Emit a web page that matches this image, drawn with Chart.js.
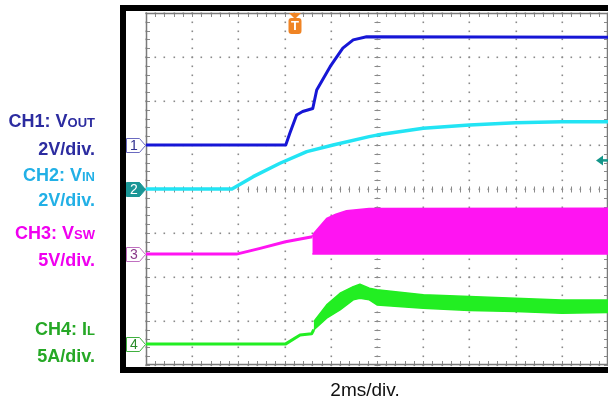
<!DOCTYPE html>
<html>
<head>
<meta charset="utf-8">
<script src="https://cdn.jsdelivr.net/npm/chart.js@4.4.0/dist/chart.umd.min.js"></script>
<style>
  html, body { margin: 0; padding: 0; background: #fff; }
  #wrap { position: relative; width: 608px; height: 403px; overflow: hidden; font-family: "Liberation Sans", Arial, sans-serif; }
  #scope { position: absolute; left: 0; top: 0; }
  .lbl { position: absolute; left: 0; width: 95px; text-align: right; font-weight: bold; font-size: 18px; line-height: 20px; white-space: nowrap; }
  .lbl span { font-size: 13px; }
  #xlabel { position: absolute; left: 300px; width: 130px; top: 379px; text-align: center; font-size: 19px; line-height: 22px; color: #111; }
</style>
</head>
<body>
<div id="wrap">
  <canvas id="scope" width="608" height="403"></canvas>
  <div class="lbl" style="top:111px;color:#2c2ca0">CH1: V<span>OUT</span></div>
  <div class="lbl" style="top:139px;color:#2c2ca0">2V/div.</div>
  <div class="lbl" style="top:165px;color:#22b0e6">CH2: V<span>IN</span></div>
  <div class="lbl" style="top:190px;color:#22b0e6">2V/div.</div>
  <div class="lbl" style="top:223px;color:#f000f0">CH3: V<span>SW</span></div>
  <div class="lbl" style="top:250px;color:#f000f0">5V/div.</div>
  <div class="lbl" style="top:319px;color:#26a826">CH4: I<span>L</span></div>
  <div class="lbl" style="top:346px;color:#26a826">5A/div.</div>
  <div id="xlabel">2ms/div.</div>
</div>
<script>
// time in ms (2 ms/div, 10 divisions)
const ch1Time = [0, 6.05, 6.23, 6.52, 6.78, 7.22, 7.39, 7.97, 8.52, 8.97, 9.55, 20];
const ch1Volt = [0, 0, 0.54, 1.36, 1.52, 1.66, 2.5, 3.56, 4.4, 4.78, 4.92, 4.9];

const ch2Time = [0, 3.72, 4.64, 5.80, 6.96, 8.10, 9.66, 10, 12, 14, 16, 18, 20];
const ch2Volt = [0, 0, 0.56, 1.17, 1.70, 2.0, 2.38, 2.45, 2.76, 2.91, 3.01, 3.06, 3.06];

// switch node before the converter starts switching
const ch3Time = [0, 3.92, 4.94, 6.04, 7.2];
const ch3Volt = [0, 0, 0.65, 1.40, 1.98];
// switching envelope (high / low level of the square wave)
const ch3SwTime = [7.2, 7.26, 7.82, 8.22, 8.68, 9.66, 20];
const ch3SwHigh = [1.98, 2.35, 4.06, 4.54, 4.92, 5.19, 5.2];
const ch3SwLow = [0, 0, 0, 0, 0, 0, 0];

// inductor current
const ch4Time = [0, 6.05, 6.67, 7.17, 7.26];
const ch4Amp = [0, 0, 1.02, 1.14, 1.6];
const ch4RipTime = [7.26, 7.82, 8.40, 8.97, 9.26, 9.67, 10, 12, 14, 16, 18, 20];
const ch4RipHigh = [2.53, 4.43, 5.76, 6.51, 6.78, 6.33, 6.14, 5.57, 5.38, 5.19, 5.0, 5.0];
const ch4RipLow = [1.59, 2.92, 3.86, 5.0, 5.19, 5.0, 4.43, 4.06, 3.78, 3.67, 3.49, 3.56];

const triggerTime = 6.45; // ms
const triggerLevel = 1.3; // V on CH2

function pts(ts, vs) {
  return ts.map((t, i) => ({ x: t, y: vs[i] }));
}

const tags = [
  { axis: 'y1', n: '1', stroke: '#6a6ac0', text: '#30308f', fill: '#fff' },
  { axis: 'y2', n: '2', stroke: '#1a9696', text: '#fff', fill: '#1a9696' },
  { axis: 'y3', n: '3', stroke: '#c070c0', text: '#8a3a8a', fill: '#fff' },
  { axis: 'y4', n: '4', stroke: '#40b040', text: '#2a8a2a', fill: '#fff' }
];

// scope bezel, graticule and markers
const scopeFrame = {
  id: 'scopeFrame',
  beforeDraw(chart) {
    const { ctx, chartArea: a } = chart;
    ctx.save();
    ctx.fillStyle = '#000';
    ctx.fillRect(a.left - 26, a.top - 8, chart.width, a.bottom - a.top + 16);
    ctx.fillStyle = '#fff';
    ctx.fillRect(a.left - 20, a.top - 2, chart.width, a.bottom - a.top + 4);
    ctx.restore();
  },
  beforeDatasetsDraw(chart) {
    const { ctx, chartArea: a, scales } = chart;
    const xs = scales.x, g = scales.yg;
    ctx.save();
    ctx.fillStyle = '#8a8a8a';
    // dotted division lines
    for (let t = 0; t <= 20; t += 2) {
      const px = Math.round(xs.getPixelForValue(t));
      for (let d = 0; d <= 8.001; d += 0.2) {
        ctx.fillRect(px - 0.5, Math.round(g.getPixelForValue(d)) - 0.5, 1.6, 1.6);
      }
    }
    for (let d = 0; d <= 8; d += 1) {
      const py = Math.round(g.getPixelForValue(d));
      for (let t = 0; t <= 20.001; t += 0.4) {
        ctx.fillRect(Math.round(xs.getPixelForValue(t)) - 0.5, py - 0.5, 1.6, 1.6);
      }
    }
    // minor ticks on centre cross and borders
    ctx.strokeStyle = '#8a8a8a';
    ctx.lineWidth = 1;
    ctx.beginPath();
    const cx = Math.round(xs.getPixelForValue(10)) + 0.5;
    const cy = Math.round(g.getPixelForValue(4)) + 0.5;
    for (let t = 0; t <= 20.001; t += 0.4) {
      const px = Math.round(xs.getPixelForValue(t)) + 0.5;
      ctx.moveTo(px, cy - 3); ctx.lineTo(px, cy + 3);
      ctx.moveTo(px, a.top); ctx.lineTo(px, a.top + 4);
      ctx.moveTo(px, a.bottom); ctx.lineTo(px, a.bottom - 4);
    }
    for (let d = 0; d <= 8.001; d += 0.2) {
      const py = Math.round(g.getPixelForValue(d)) + 0.5;
      ctx.moveTo(cx - 3, py); ctx.lineTo(cx + 3, py);
      ctx.moveTo(a.left, py); ctx.lineTo(a.left + 4, py);
      ctx.moveTo(a.right, py); ctx.lineTo(a.right - 4, py);
    }
    ctx.stroke();
    ctx.strokeStyle = '#7a7a7a';
    ctx.lineWidth = 1.5;
    ctx.strokeRect(a.left + 0.5, a.top + 0.5, a.right - a.left - 1, a.bottom - a.top - 1);
    ctx.restore();
  },
  afterDatasetsDraw(chart) {
    const { ctx, chartArea: a, scales } = chart;
    ctx.save();
    ctx.font = '14px "Liberation Sans", Arial, sans-serif';
    ctx.textAlign = 'center';
    ctx.textBaseline = 'middle';
    tags.forEach(tg => {
      const y = Math.round(scales[tg.axis].getPixelForValue(0)) + 0.5;
      const x0 = a.left - 19.5;
      ctx.beginPath();
      ctx.moveTo(x0, y - 7);
      ctx.lineTo(x0 + 13, y - 7);
      ctx.lineTo(x0 + 19, y);
      ctx.lineTo(x0 + 13, y + 7);
      ctx.lineTo(x0, y + 7);
      ctx.closePath();
      ctx.fillStyle = tg.fill;
      ctx.fill();
      ctx.strokeStyle = tg.stroke;
      ctx.lineWidth = 1;
      ctx.stroke();
      ctx.fillStyle = tg.text;
      ctx.fillText(tg.n, x0 + 7.5, y + 1);
    });
    // trigger position marker
    const px = scales.x.getPixelForValue(triggerTime);
    ctx.fillStyle = '#f08424';
    ctx.beginPath();
    ctx.moveTo(px - 6, a.top);
    ctx.lineTo(px + 6, a.top);
    ctx.lineTo(px, a.top + 6);
    ctx.closePath();
    ctx.fill();
    ctx.beginPath();
    ctx.roundRect(px - 6.5, a.top + 5, 13, 16, 3);
    ctx.fill();
    ctx.fillStyle = '#fff';
    ctx.font = 'bold 13px "Liberation Sans", Arial, sans-serif';
    ctx.fillText('T', px, a.top + 13.5);
    // trigger level marker (CH2)
    const ly = scales.y2.getPixelForValue(triggerLevel);
    ctx.fillStyle = '#14968a';
    ctx.strokeStyle = '#14968a';
    ctx.beginPath();
    ctx.moveTo(a.right - 12, ly);
    ctx.lineTo(a.right - 5, ly - 5);
    ctx.lineTo(a.right - 5, ly + 5);
    ctx.closePath();
    ctx.fill();
    ctx.lineWidth = 2.5;
    ctx.beginPath();
    ctx.moveTo(a.right - 6, ly);
    ctx.lineTo(a.right, ly);
    ctx.stroke();
    ctx.restore();
  }
};

const blue = '#1616d6', cyan = '#22e4f4', magenta = '#ff14f2', green = '#22ee22';

new Chart(document.getElementById('scope'), {
  type: 'line',
  data: {
    datasets: [
      { label: 'CH1', data: pts(ch1Time, ch1Volt), yAxisID: 'y1', borderColor: blue, borderWidth: 3 },
      { label: 'CH2', data: pts(ch2Time, ch2Volt), yAxisID: 'y2', borderColor: cyan, borderWidth: 3.5 },
      { label: 'CH3', data: pts(ch3Time, ch3Volt), yAxisID: 'y3', borderColor: magenta, borderWidth: 3 },
      { label: 'CH3 high', data: pts(ch3SwTime, ch3SwHigh), yAxisID: 'y3', borderColor: magenta, borderWidth: 1.5, backgroundColor: magenta, fill: '+1' },
      { label: 'CH3 low', data: pts(ch3SwTime, ch3SwLow), yAxisID: 'y3', borderColor: magenta, borderWidth: 1.5 },
      { label: 'CH4', data: pts(ch4Time, ch4Amp), yAxisID: 'y4', borderColor: green, borderWidth: 3 },
      { label: 'CH4 high', data: pts(ch4RipTime, ch4RipHigh), yAxisID: 'y4', borderColor: green, borderWidth: 1.5, backgroundColor: green, fill: '+1' },
      { label: 'CH4 low', data: pts(ch4RipTime, ch4RipLow), yAxisID: 'y4', borderColor: green, borderWidth: 1.5 }
    ]
  },
  options: {
    responsive: false,
    animation: false,
    devicePixelRatio: 1,
    layout: { padding: { left: 146, top: 13, right: 0, bottom: 38 } },
    elements: { point: { radius: 0 }, line: { tension: 0, borderJoinStyle: 'round' } },
    plugins: { legend: { display: false }, tooltip: { enabled: false } },
    scales: {
      x: { type: 'linear', min: 0, max: 20, display: false },
      yg: { min: 0, max: 8, display: false },
      y1: { min: -10, max: 6, display: false },
      y2: { min: -8, max: 8, display: false },
      y3: { min: -12.6, max: 27.4, display: false },
      y4: { min: -2.4, max: 37.6, display: false }
    }
  },
  plugins: [scopeFrame]
});
</script>
</body>
</html>
